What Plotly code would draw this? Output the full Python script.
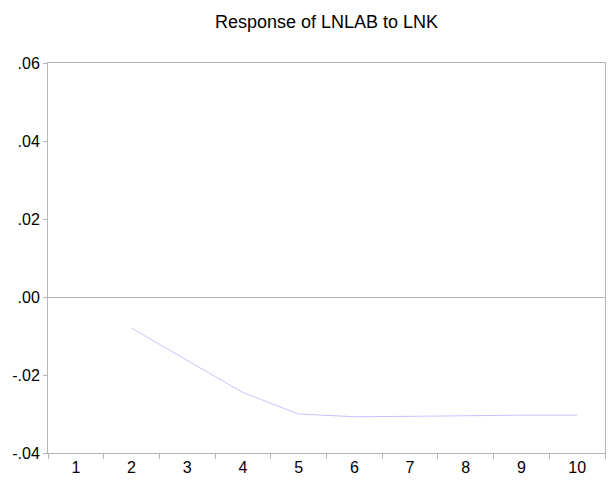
import plotly.graph_objects as go

# Impulse response of LNLAB to a shock in LNK, periods 1-10
periods = ["1", "2", "3", "4", "5", "6", "7", "8", "9", "10"]
response = [None, -0.0080, -0.0162, -0.0245, -0.0300, -0.0307, -0.0306, -0.0304, -0.0303, -0.0303]

y_ticks = [-0.04, -0.02, 0.0, 0.02, 0.04, 0.06]
y_tick_text = ["-.04", "-.02", ".00", ".02", ".04", ".06"]

title_text = "Response of LNLAB to LNK"

FONT = "Liberation Sans, Arial, sans-serif"
GRAY = "#b4b4b4"

fig = go.Figure()
fig.add_trace(go.Scatter(
    x=periods, y=response, mode="lines",
    line=dict(color="rgb(196,196,255)", width=1),
    connectgaps=False, hoverinfo="skip", showlegend=False,
))

fig.update_layout(
    width=616, height=489,
    margin=dict(l=48, r=11, t=63, b=36),
    paper_bgcolor="white", plot_bgcolor="white",
    title=dict(text=title_text, x=0.5, xanchor="center", xref="paper",
               y=1 - 22 / 489, yanchor="middle",
               font=dict(family=FONT, size=18, color="black")),
    font=dict(family=FONT, size=16, color="black"),
    showlegend=False,
)

fig.update_xaxes(
    type="category", range=[-0.5, 9.5],
    showline=True, linecolor=GRAY, linewidth=1, mirror=True,
    ticks="outside", tickson="boundaries", ticklen=5, tickcolor=GRAY,
    showgrid=False, zeroline=False,
    tickfont=dict(family=FONT, size=16, color="black"),
)

fig.update_yaxes(
    range=[-0.04, 0.06], tickvals=y_ticks, ticktext=y_tick_text,
    showline=True, linecolor=GRAY, linewidth=1, mirror=True,
    ticks="outside", ticklen=4, tickcolor=GRAY,
    showgrid=False, zeroline=True, zerolinecolor=GRAY, zerolinewidth=1,
    tickfont=dict(family=FONT, size=16, color="black"),
)

fig.write_html("out.html")
